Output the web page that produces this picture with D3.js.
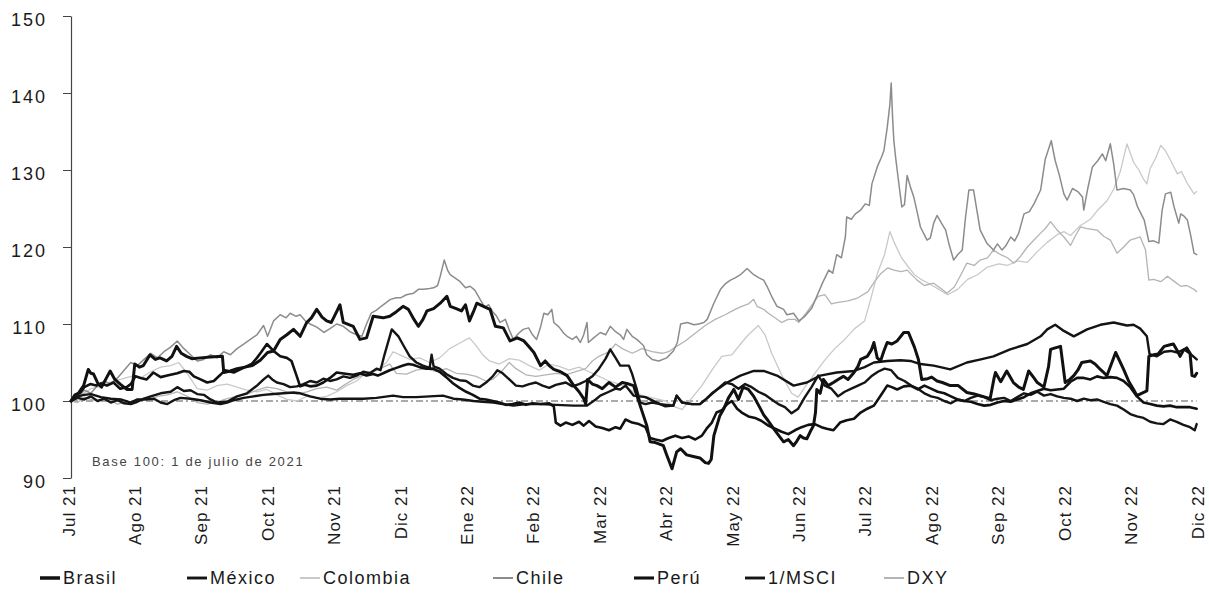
<!DOCTYPE html>
<html><head><meta charset="utf-8">
<script src="https://cdn.jsdelivr.net/npm/d3@7"></script>
<style>body{margin:0;background:#fff}svg{display:block}</style>
</head><body><svg id="c" width="1209" height="604"></svg>
<script>
// x values are months since 1 Jul 2021 (0 = Jul 21, 17 = Dic 22)
const monthLabels = ["Jul 21","Ago 21","Sep 21","Oct 21","Nov 21","Dic 21","Ene 22","Feb 22","Mar 22","Abr 22","May 22","Jun 22","Jul 22","Ago 22","Sep 22","Oct 22","Nov 22","Dic 22"];
const yTickValues = [90,100,110,120,130,140,150];
const seriesNames = ["Brasil","México","Colombia","Chile","Perú","1/MSCI","DXY"];

const brasil = [[0,100],[0.06,100.8],[0.11,101.0],[0.19,102.0],[0.26,104.1],[0.3,103.6],[0.34,103.5],[0.41,102.2],[0.46,101.8],[0.54,103.1],[0.59,103.9],[0.66,102.8],[0.74,102.2],[0.84,101.5],[0.92,101.5],[0.96,104.8],[1.03,104.4],[1.09,104.6],[1.19,106.0],[1.27,105.4],[1.34,105.6],[1.44,105.2],[1.52,105.8],[1.59,107.1],[1.66,106.2],[1.74,105.8],[1.82,105.5],[1.95,105.6],[2.1,105.7],[2.28,105.8],[2.3,103.7],[2.4,103.9],[2.5,104.2],[2.62,104.4],[2.73,104.6],[2.85,105.3],[2.96,106.3],[3.05,106.5],[3.15,108.0],[3.25,108.6],[3.35,109.3],[3.45,108.4],[3.55,110.2],[3.62,110.8],[3.7,111.9],[3.78,110.9],[3.85,110.4],[3.92,110.2],[4.0,111.6],[4.05,112.5],[4.1,110.2],[4.25,109.7],[4.35,108.0],[4.45,108.2],[4.55,111.0],[4.7,110.8],[4.8,111.0],[4.9,111.6],[5.0,112.3],[5.08,111.9],[5.15,110.8],[5.23,109.7],[5.3,110.6],[5.36,111.7],[5.46,112.0],[5.56,112.7],[5.66,113.6],[5.71,112.3],[5.8,112.0],[5.88,111.7],[5.94,112.5],[6.0,110.4],[6.06,111.6],[6.11,112.7],[6.21,112.3],[6.31,111.9],[6.39,109.7],[6.51,109.5],[6.61,107.8],[6.72,108.2],[6.82,107.8],[6.9,107.0],[6.97,106.3],[7.07,104.6],[7.14,105.2],[7.2,104.6],[7.27,104.1],[7.37,103.8],[7.47,103.3],[7.57,102.0],[7.65,101.2],[7.72,100.3],[7.75,99.6],[7.78,102.8],[7.85,102.2],[7.92,102.0],[8.0,101.6],[8.1,102.4],[8.2,101.8],[8.3,102.4],[8.4,102.2],[8.47,102.0],[8.57,99.4],[8.67,96.8],[8.72,94.7],[8.8,94.6],[8.92,94.2],[8.97,93.0],[9.05,91.2],[9.12,93.4],[9.18,93.8],[9.27,93.0],[9.37,92.8],[9.47,92.6],[9.55,92.0],[9.6,91.9],[9.64,92.4],[9.68,95.5],[9.77,98.1],[9.83,99.0],[9.9,100.4],[9.98,101.5],[10.05,100.2],[10.12,101.8],[10.2,101.5],[10.28,100.6],[10.35,99.5],[10.43,98.2],[10.5,97.4],[10.58,96.4],[10.65,95.6],[10.73,94.7],[10.8,95.0],[10.88,94.2],[10.93,94.8],[10.98,95.5],[11.03,95.2],[11.08,95.1],[11.13,96.0],[11.18,96.8],[11.21,98.5],[11.23,101.5],[11.28,101.0],[11.33,102.8],[11.4,102.0],[11.48,102.4],[11.55,102.8],[11.63,103.2],[11.7,102.8],[11.79,103.7],[11.85,104.5],[11.89,105.4],[11.99,105.8],[12.05,106.6],[12.09,107.6],[12.14,105.6],[12.19,105.2],[12.24,106.5],[12.29,107.6],[12.36,107.4],[12.44,107.8],[12.54,108.9],[12.61,108.9],[12.7,107.0],[12.76,105.4],[12.81,102.8],[12.9,102.9],[12.96,103.1],[13.04,102.6],[13.12,102.4],[13.24,102.0],[13.36,102.0],[13.49,101.1],[13.6,100.9],[13.69,100.7],[13.84,100.3],[13.9,103.0],[13.92,103.7],[14.0,102.5],[14.09,103.9],[14.19,102.4],[14.27,101.8],[14.34,101.5],[14.42,103.9],[14.5,103.0],[14.55,102.4],[14.65,101.8],[14.72,104.5],[14.75,106.7],[14.82,106.9],[14.9,107.1],[14.97,102.4],[15.04,102.8],[15.1,103.3],[15.16,104.0],[15.22,105.0],[15.35,105.2],[15.42,104.8],[15.5,104.1],[15.6,103.3],[15.73,106.3],[15.85,104.1],[15.93,102.5],[16.0,101.5],[16.05,100.7],[16.12,101.0],[16.2,101.3],[16.23,105.8],[16.3,106.0],[16.37,106.1],[16.46,107.1],[16.55,107.3],[16.6,107.4],[16.66,106.5],[16.7,105.8],[16.75,106.6],[16.8,106.9],[16.85,106.2],[16.88,103.3],[16.92,103.2],[16.95,103.6]];

const mexico = [[0,100],[0.1,100.4],[0.2,100.2],[0.3,100.6],[0.4,100.0],[0.5,100.3],[0.6,99.8],[0.7,100.1],[0.8,99.7],[0.9,99.6],[1.0,99.9],[1.1,100.3],[1.2,100.6],[1.35,101.0],[1.5,101.2],[1.6,101.8],[1.7,101.3],[1.8,101.4],[1.9,100.9],[2.0,100.8],[2.1,100.2],[2.2,99.8],[2.35,99.9],[2.5,100.6],[2.65,101.0],[2.8,102.0],[2.9,102.8],[2.97,103.3],[3.03,102.8],[3.1,102.4],[3.2,102.2],[3.3,101.8],[3.4,101.9],[3.5,102.2],[3.6,102.6],[3.7,102.4],[3.8,102.9],[3.9,102.6],[4.0,102.8],[4.1,103.2],[4.2,103.0],[4.3,103.3],[4.4,103.8],[4.5,103.6],[4.6,104.2],[4.66,104.0],[4.72,106.0],[4.83,109.3],[4.93,108.4],[5.0,107.3],[5.1,105.8],[5.2,105.0],[5.3,104.6],[5.4,104.3],[5.43,106.0],[5.46,104.5],[5.55,104.2],[5.65,103.5],[5.75,103.0],[5.85,102.7],[5.95,102.6],[6.05,102.0],[6.15,101.8],[6.25,102.4],[6.35,103.2],[6.42,104.0],[6.5,103.6],[6.6,102.8],[6.7,102.0],[6.8,101.9],[6.9,102.2],[7.0,102.4],[7.1,102.0],[7.2,101.7],[7.3,102.1],[7.45,102.4],[7.55,101.9],[7.65,102.2],[7.75,102.6],[7.85,103.2],[7.95,104.2],[8.05,105.5],[8.12,106.7],[8.2,105.6],[8.27,104.6],[8.4,104.6],[8.45,103.5],[8.52,101.5],[8.57,99.8],[8.65,99.6],[8.75,99.8],[8.87,99.6],[8.95,99.3],[9.07,99.4],[9.12,100.7],[9.2,99.8],[9.35,99.6],[9.47,99.6],[9.57,100.3],[9.65,101.0],[9.73,101.5],[9.85,102.4],[9.95,102.2],[10.05,101.6],[10.15,102.2],[10.25,101.8],[10.35,101.2],[10.45,100.8],[10.55,100.2],[10.65,99.6],[10.75,99.2],[10.85,98.4],[10.95,99.0],[11.05,100.5],[11.15,101.8],[11.25,103.3],[11.35,102.0],[11.45,101.6],[11.55,100.6],[11.65,101.2],[11.75,101.6],[11.85,102.0],[11.95,102.4],[12.05,103.2],[12.15,103.8],[12.25,104.2],[12.35,104.0],[12.45,103.0],[12.55,102.6],[12.65,102.0],[12.75,101.6],[12.85,101.0],[12.95,100.6],[13.05,100.4],[13.15,100.0],[13.25,99.7],[13.35,100.2],[13.45,100.0],[13.55,100.4],[13.65,100.7],[13.75,100.5],[13.85,100.1],[13.95,100.3],[14.05,100.4],[14.15,100.0],[14.25,100.5],[14.35,101.0],[14.45,100.8],[14.55,101.2],[14.65,100.7],[14.75,100.9],[14.85,100.6],[14.95,100.4],[15.05,100.3],[15.15,100.0],[15.25,100.3],[15.35,100.1],[15.45,100.2],[15.55,99.9],[15.65,99.6],[15.75,99.4],[15.85,98.9],[15.95,98.3],[16.05,98.0],[16.15,97.8],[16.25,97.3],[16.35,97.1],[16.45,97.0],[16.55,97.6],[16.65,97.3],[16.75,96.9],[16.85,96.6],[16.92,96.2],[16.95,97.0]];

const colombia = [[0,100],[0.15,100.8],[0.3,101.6],[0.45,101.9],[0.6,102.5],[0.75,102.8],[0.9,103.2],[1.05,103.0],[1.2,103.8],[1.35,104.4],[1.5,104.6],[1.62,105.0],[1.75,103.6],[1.9,101.6],[2.05,101.4],[2.2,102.0],[2.35,102.2],[2.5,101.8],[2.65,101.4],[2.8,101.2],[2.95,101.5],[3.1,100.8],[3.25,100.2],[3.4,100.0],[3.55,100.6],[3.7,100.4],[3.85,100.6],[4.0,101.2],[4.15,102.0],[4.3,102.6],[4.45,103.7],[4.6,104.0],[4.75,105.0],[4.85,106.4],[4.95,106.0],[5.1,105.4],[5.25,105.6],[5.4,105.0],[5.55,105.6],[5.7,106.8],[5.85,107.5],[6.0,108.2],[6.1,107.2],[6.2,106.0],[6.3,105.2],[6.45,104.8],[6.6,105.5],[6.75,105.3],[6.9,104.6],[7.05,104.0],[7.2,104.8],[7.35,104.5],[7.5,104.0],[7.65,104.4],[7.8,103.8],[7.95,103.2],[8.1,102.6],[8.25,102.2],[8.4,101.6],[8.5,101.0],[8.65,100.6],[8.8,100.3],[8.95,100.0],[9.1,99.2],[9.2,98.9],[9.35,100.4],[9.5,102.0],[9.65,104.0],[9.8,105.8],[9.95,106.0],[10.1,107.6],[10.2,108.6],[10.35,109.8],[10.45,108.6],[10.55,106.2],[10.7,103.4],[10.85,101.0],[10.95,100.5],[11.05,101.8],[11.2,103.6],[11.35,105.3],[11.5,106.8],[11.65,108.0],[11.8,109.4],[11.95,110.4],[12.05,113.5],[12.15,116.8],[12.25,119.0],[12.33,122.0],[12.4,120.5],[12.5,118.7],[12.6,117.5],[12.7,116.4],[12.8,115.8],[12.93,115.2],[13.05,114.6],[13.2,113.8],[13.35,114.5],[13.5,115.8],[13.65,116.4],[13.8,117.4],[13.97,117.8],[14.1,117.6],[14.25,118.2],[14.4,118.0],[14.55,119.4],[14.7,120.6],[14.85,121.6],[14.95,122.0],[15.05,121.5],[15.2,122.8],[15.35,123.6],[15.45,124.7],[15.6,126.0],[15.7,127.5],[15.8,129.8],[15.9,133.4],[15.95,132.2],[16.0,131.0],[16.08,130.0],[16.15,128.8],[16.2,128.2],[16.25,130.2],[16.33,131.5],[16.41,133.2],[16.48,132.5],[16.56,131.2],[16.66,129.5],[16.72,129.8],[16.8,128.4],[16.91,126.9],[16.95,127.2]];

const chile = [[0,100],[0.1,100.5],[0.2,101.4],[0.3,101.0],[0.4,102.0],[0.5,102.6],[0.6,102.2],[0.7,103.0],[0.8,104.0],[0.9,105.0],[1.0,104.6],[1.1,105.4],[1.2,106.2],[1.3,105.6],[1.4,106.4],[1.5,107.0],[1.6,107.8],[1.7,106.8],[1.8,106.0],[1.9,105.2],[2.0,105.4],[2.1,106.0],[2.2,105.6],[2.3,106.4],[2.4,106.0],[2.5,106.8],[2.6,107.4],[2.7,108.0],[2.8,108.6],[2.9,109.8],[2.96,108.4],[3.05,110.4],[3.15,111.2],[3.24,110.8],[3.3,111.4],[3.39,111.0],[3.45,111.2],[3.53,110.4],[3.6,110.0],[3.7,109.6],[3.81,108.9],[3.9,109.4],[4.0,110.0],[4.1,109.7],[4.2,109.0],[4.3,108.6],[4.38,108.4],[4.45,110.0],[4.52,111.4],[4.6,111.8],[4.67,112.3],[4.75,112.8],[4.81,113.2],[4.9,113.4],[4.96,113.4],[5.05,113.8],[5.16,114.0],[5.23,114.5],[5.31,114.5],[5.4,114.6],[5.46,114.7],[5.52,115.0],[5.56,116.2],[5.62,118.3],[5.67,117.0],[5.71,116.4],[5.78,116.0],[5.86,115.5],[5.94,114.7],[6.01,114.9],[6.08,114.4],[6.16,113.2],[6.23,112.2],[6.29,112.5],[6.35,111.6],[6.41,111.0],[6.46,110.2],[6.54,110.6],[6.6,109.2],[6.66,108.0],[6.74,108.8],[6.81,109.3],[6.89,109.5],[6.95,108.6],[7.01,108.0],[7.07,109.6],[7.12,111.4],[7.18,111.2],[7.24,111.9],[7.27,110.2],[7.35,109.6],[7.42,108.8],[7.47,108.4],[7.55,108.0],[7.61,108.4],[7.67,107.6],[7.72,108.6],[7.77,110.2],[7.79,107.6],[7.87,108.2],[7.97,108.9],[8.05,108.6],[8.12,109.7],[8.2,109.0],[8.27,108.6],[8.32,108.0],[8.37,109.3],[8.45,108.4],[8.52,108.0],[8.57,107.6],[8.62,107.2],[8.67,106.0],[8.75,105.4],[8.85,105.2],[8.97,105.6],[9.07,106.5],[9.13,107.6],[9.18,110.0],[9.28,110.2],[9.38,109.9],[9.45,110.0],[9.53,110.2],[9.58,110.6],[9.68,112.7],[9.78,114.5],[9.85,115.2],[9.93,115.7],[10.0,116.0],[10.08,116.4],[10.18,117.2],[10.28,116.4],[10.36,116.0],[10.43,115.7],[10.48,114.9],[10.55,113.6],[10.63,112.3],[10.73,111.9],[10.78,111.2],[10.88,111.4],[10.96,110.4],[11.05,111.0],[11.15,112.0],[11.23,113.6],[11.32,115.4],[11.41,117.0],[11.47,116.6],[11.53,119.0],[11.6,118.6],[11.66,121.3],[11.68,123.9],[11.75,123.6],[11.81,124.3],[11.89,124.8],[11.96,125.6],[12.02,125.4],[12.06,128.2],[12.14,130.4],[12.2,131.6],[12.24,132.5],[12.29,135.5],[12.33,138.5],[12.35,141.3],[12.37,137.0],[12.39,133.8],[12.42,131.4],[12.46,128.6],[12.51,125.2],[12.55,125.5],[12.59,129.3],[12.64,127.8],[12.69,126.5],[12.74,124.6],[12.79,122.6],[12.89,120.9],[12.94,121.2],[12.99,123.1],[13.04,124.1],[13.1,123.2],[13.17,122.2],[13.22,120.4],[13.29,118.3],[13.35,119.0],[13.42,119.6],[13.47,123.9],[13.52,127.4],[13.59,127.4],[13.64,124.8],[13.69,122.2],[13.79,120.5],[13.89,119.6],[13.95,120.4],[14.02,119.6],[14.08,120.2],[14.15,121.3],[14.21,120.8],[14.27,121.8],[14.35,124.3],[14.43,124.6],[14.5,125.6],[14.6,127.4],[14.67,131.4],[14.76,133.8],[14.82,131.2],[14.88,129.4],[14.95,126.9],[15.0,126.1],[15.08,127.6],[15.16,127.2],[15.23,126.5],[15.25,124.8],[15.31,127.6],[15.38,130.4],[15.46,131.2],[15.53,132.1],[15.58,131.2],[15.65,133.4],[15.7,130.8],[15.75,127.4],[15.85,127.6],[15.95,127.4],[16.0,126.8],[16.06,125.2],[16.16,123.5],[16.23,120.7],[16.3,120.8],[16.38,120.5],[16.43,124.8],[16.48,126.9],[16.56,127.1],[16.61,125.2],[16.68,123.1],[16.71,124.3],[16.76,124.0],[16.81,123.5],[16.86,121.5],[16.91,119.2],[16.95,119.0]];

const peru = [[0,100],[0.07,100.8],[0.14,101.1],[0.2,101.8],[0.29,102.2],[0.38,102.0],[0.45,102.3],[0.54,102.0],[0.64,102.4],[0.74,101.6],[0.84,101.8],[0.9,102.2],[0.97,103.2],[1.05,103.0],[1.14,102.8],[1.24,103.7],[1.35,103.1],[1.45,103.3],[1.6,103.6],[1.7,103.9],[1.78,103.8],[1.85,103.2],[1.95,102.8],[2.05,102.4],[2.15,102.6],[2.25,103.4],[2.32,104.0],[2.45,103.7],[2.55,104.1],[2.62,104.4],[2.72,104.8],[2.8,105.6],[2.86,106.3],[2.95,107.4],[3.05,106.5],[3.15,105.8],[3.25,105.6],[3.32,105.2],[3.4,103.2],[3.45,101.9],[3.52,102.1],[3.6,101.9],[3.7,102.0],[3.8,102.4],[3.9,103.0],[4.0,103.7],[4.08,103.6],[4.16,103.5],[4.25,103.4],[4.35,103.6],[4.45,103.3],[4.55,103.5],[4.62,103.3],[4.7,103.6],[4.8,104.0],[4.9,104.3],[5.0,104.6],[5.08,104.8],[5.15,104.7],[5.25,104.4],[5.35,104.2],[5.45,104.2],[5.55,103.8],[5.65,103.1],[5.75,102.3],[5.85,101.7],[5.95,101.2],[6.05,100.8],[6.15,100.3],[6.25,100.2],[6.35,100.0],[6.45,99.8],[6.55,99.5],[6.65,99.6],[6.75,99.8],[6.85,99.5],[6.95,99.7],[7.07,99.6],[7.2,99.7],[7.27,99.3],[7.3,97.2],[7.37,96.8],[7.45,97.2],[7.55,96.9],[7.65,97.3],[7.72,96.8],[7.8,97.4],[7.9,96.7],[8.0,96.5],[8.1,96.2],[8.2,96.6],[8.27,96.4],[8.35,97.6],[8.45,97.2],[8.55,97.0],[8.65,96.6],[8.72,95.2],[8.8,95.0],[8.9,94.8],[9.0,95.2],[9.1,95.5],[9.2,95.2],[9.3,95.4],[9.4,95.0],[9.5,95.5],[9.57,96.4],[9.65,97.2],[9.72,98.5],[9.8,98.8],[9.88,99.6],[9.95,100.0],[10.03,99.0],[10.1,98.5],[10.2,98.0],[10.3,97.8],[10.4,97.4],[10.5,96.8],[10.6,96.4],[10.7,96.0],[10.8,95.7],[10.9,96.2],[11.0,96.6],[11.1,96.9],[11.2,97.0],[11.3,96.6],[11.38,96.4],[11.48,96.2],[11.58,97.2],[11.68,97.5],[11.79,97.7],[11.89,98.5],[11.99,99.0],[12.09,99.4],[12.2,100.8],[12.29,102.0],[12.36,101.8],[12.44,101.5],[12.54,101.9],[12.64,102.0],[12.75,101.5],[12.85,102.0],[12.95,101.6],[13.05,101.2],[13.15,101.0],[13.25,100.6],[13.35,100.2],[13.45,100.0],[13.55,99.9],[13.65,99.6],[13.75,99.4],[13.85,99.5],[13.95,99.8],[14.05,100.0],[14.15,99.9],[14.25,100.2],[14.35,100.5],[14.45,101.0],[14.55,101.3],[14.65,101.6],[14.75,101.4],[14.85,101.5],[14.95,101.6],[15.05,102.5],[15.15,103.0],[15.25,103.0],[15.35,102.8],[15.45,103.2],[15.55,103.0],[15.65,103.1],[15.75,103.0],[15.85,102.6],[15.95,101.8],[16.05,100.6],[16.15,99.8],[16.25,99.6],[16.35,99.4],[16.45,99.3],[16.55,99.4],[16.65,99.2],[16.75,99.2],[16.85,99.2],[16.95,99.0]];

const msciInv = [[0,100],[0.1,100.6],[0.2,100.8],[0.3,100.9],[0.45,100.5],[0.6,100.3],[0.75,100.2],[0.9,99.8],[1.0,100.2],[1.1,100.2],[1.25,100.3],[1.35,99.8],[1.45,99.6],[1.55,100.1],[1.65,100.4],[1.8,100.3],[1.95,100.1],[2.1,99.8],[2.25,99.6],[2.35,99.8],[2.45,100.1],[2.6,100.4],[2.75,100.6],[2.9,100.8],[3.05,100.9],[3.2,101.0],[3.35,101.1],[3.45,101.0],[3.6,100.6],[3.75,100.3],[3.9,100.2],[4.05,100.3],[4.2,100.3],[4.4,100.3],[4.6,100.4],[4.85,100.7],[5.0,100.5],[5.2,100.5],[5.4,100.6],[5.6,100.7],[5.76,100.3],[5.9,100.2],[6.06,100.0],[6.2,99.9],[6.36,99.8],[6.5,99.6],[6.66,99.4],[6.85,99.6],[7.07,99.6],[7.3,99.5],[7.57,99.4],[7.77,99.4],[7.9,100.2],[7.97,100.7],[8.1,101.2],[8.2,101.6],[8.27,101.5],[8.35,102.0],[8.47,100.7],[8.65,100.5],[8.87,99.6],[9.07,99.4],[9.12,100.7],[9.2,99.8],[9.35,99.6],[9.47,99.6],[9.57,100.3],[9.73,101.5],[9.88,102.4],[10.08,103.3],[10.28,103.9],[10.43,103.9],[10.63,103.3],[10.88,102.0],[11.08,102.4],[11.28,103.3],[11.53,103.7],[11.79,103.9],[11.95,104.4],[12.09,105.0],[12.29,105.2],[12.49,105.3],[12.64,105.2],[12.79,104.8],[12.99,104.6],[13.24,104.1],[13.49,105.0],[13.7,105.4],[13.89,105.8],[14.14,106.7],[14.4,107.4],[14.6,108.4],[14.7,109.3],[14.82,109.9],[14.95,109.1],[15.1,108.4],[15.3,109.3],[15.5,109.9],[15.7,110.2],[15.9,109.8],[16.0,109.9],[16.1,109.4],[16.2,108.4],[16.24,106.1],[16.35,105.8],[16.46,106.4],[16.56,106.5],[16.66,106.3],[16.76,106.7],[16.86,106.1],[16.95,105.4]];

const dxy = [[0,100],[0.1,99.8],[0.2,100.5],[0.3,100.2],[0.4,100.0],[0.5,100.4],[0.6,100.0],[0.7,99.6],[0.8,99.8],[0.9,99.6],[1.0,99.9],[1.1,100.4],[1.2,100.2],[1.3,100.6],[1.45,100.8],[1.6,101.2],[1.75,100.6],[1.9,99.8],[2.05,99.6],[2.2,99.9],[2.35,100.3],[2.5,100.6],[2.65,100.9],[2.8,101.4],[2.95,101.8],[3.1,101.6],[3.25,101.2],[3.4,100.9],[3.55,101.2],[3.7,101.6],[3.85,101.8],[4.0,101.4],[4.1,102.0],[4.25,102.8],[4.4,103.4],[4.55,103.8],[4.7,104.4],[4.8,104.8],[4.9,103.6],[5.05,103.5],[5.2,104.0],[5.35,104.2],[5.5,103.8],[5.65,104.2],[5.8,103.6],[5.95,103.5],[6.1,103.2],[6.25,102.6],[6.35,102.8],[6.5,104.0],[6.6,105.0],[6.7,104.2],[6.85,103.4],[7.0,103.2],[7.15,103.4],[7.3,103.6],[7.45,103.4],[7.6,103.8],[7.75,104.2],[7.85,105.2],[7.95,105.8],[8.1,106.4],[8.2,107.4],[8.3,106.8],[8.45,106.2],[8.6,106.8],[8.75,106.4],[8.9,106.2],[9.0,106.4],[9.1,107.0],[9.25,107.8],[9.4,108.8],[9.55,109.8],[9.7,110.6],[9.85,111.2],[10.0,111.9],[10.1,112.3],[10.2,112.6],[10.28,113.2],[10.33,112.3],[10.43,111.9],[10.5,111.4],[10.6,110.8],[10.7,110.2],[10.8,110.6],[10.9,110.6],[10.96,110.2],[11.05,111.2],[11.15,112.4],[11.25,113.6],[11.35,113.8],[11.45,112.6],[11.55,112.8],[11.7,113.0],[11.85,113.4],[12.0,114.2],[12.1,115.5],[12.2,116.6],[12.3,117.3],[12.39,117.0],[12.5,116.8],[12.59,117.0],[12.74,115.7],[12.85,115.0],[12.99,115.3],[13.1,114.6],[13.19,114.0],[13.3,114.8],[13.4,116.4],[13.49,117.9],[13.6,117.6],[13.69,118.3],[13.8,118.6],[13.89,119.6],[14.0,119.0],[14.1,118.6],[14.2,117.9],[14.3,118.8],[14.4,120.0],[14.5,120.9],[14.6,121.8],[14.68,122.5],[14.75,123.3],[14.85,122.2],[14.95,121.3],[15.05,120.2],[15.12,121.4],[15.2,122.6],[15.3,122.4],[15.45,122.2],[15.55,121.4],[15.65,120.9],[15.75,119.2],[15.85,120.0],[15.95,120.9],[16.1,121.3],[16.18,119.6],[16.23,115.7],[16.3,115.8],[16.41,115.5],[16.51,116.2],[16.6,115.6],[16.71,114.9],[16.8,115.0],[16.91,114.5],[16.95,114.2]];

const seriesData = {"Brasil":brasil,"México":mexico,"Colombia":colombia,"Chile":chile,"Perú":peru,"1/MSCI":msciInv,"DXY":dxy};
const styles = {
  "Brasil":{c:"#111",w:3},
  "México":{c:"#151515",w:2.4},
  "Colombia":{c:"#c9c9c9",w:1.3},
  "Chile":{c:"#8c8c8c",w:1.5},
  "Perú":{c:"#111",w:2.6},
  "1/MSCI":{c:"#141414",w:2.4},
  "DXY":{c:"#b4b4b4",w:1.3}
};
const drawOrder = ["Colombia","DXY","Chile","1/MSCI","México","Perú","Brasil"];
const legendX = {"Brasil":40,"México":187,"Colombia":300,"Chile":493,"Perú":634,"1/MSCI":745,"DXY":884};

const svg = d3.select("#c");
const x = d3.scaleLinear().domain([0,17]).range([71,1200]);
const y = d3.scaleLinear().domain([90,150]).range([478,16]);

// baseline 100
svg.append("line").attr("x1",x(0)).attr("x2",x(16.95)).attr("y1",y(100)).attr("y2",y(100))
  .attr("stroke","#555").attr("stroke-width",1).attr("stroke-dasharray","7,3,2,3");

// y axis
const yAxis = svg.append("g").attr("transform","translate(71,0)")
  .call(d3.axisLeft(y).tickValues(yTickValues).tickSize(8).tickSizeOuter(0).tickPadding(16));
yAxis.select(".domain").attr("stroke","#444").attr("stroke-width",1.2);
yAxis.selectAll(".tick line").attr("stroke","#444");
yAxis.selectAll(".tick text").attr("font-family","Liberation Sans, Arial, sans-serif")
  .attr("font-size",18).attr("fill","#1a1a1a").attr("letter-spacing","2px").attr("dy","0.55em");

// x axis
const xAxis = svg.append("g").attr("transform","translate(0,485)")
  .call(d3.axisBottom(x).tickValues(d3.range(18)).tickFormat(i=>monthLabels[i]).tickSize(0));
xAxis.select(".domain").remove();
xAxis.selectAll(".tick text").attr("y",0).attr("dy",0)
  .attr("transform","translate(3,0) rotate(-90)").style("text-anchor","end")
  .attr("font-family","Liberation Sans, Arial, sans-serif").attr("font-size",17)
  .attr("fill","#1a1a1a").attr("letter-spacing","1px");

// note
svg.append("text").attr("x",92).attr("y",466).text("Base 100: 1 de julio de 2021")
  .attr("font-family","Liberation Sans, Arial, sans-serif").attr("font-size",13)
  .attr("letter-spacing","1.7px").attr("fill","#444");

// lines
const line = d3.line().x(d=>x(d[0])).y(d=>y(d[1]));
drawOrder.forEach(n=>{
  svg.append("path").datum(seriesData[n]).attr("d",line).attr("fill","none")
    .attr("stroke",styles[n].c).attr("stroke-width",styles[n].w)
    .attr("stroke-linejoin","round").attr("stroke-linecap","round");
});

// legend
const lg = svg.append("g");
seriesNames.forEach(n=>{
  const lx = legendX[n];
  lg.append("line").attr("x1",lx).attr("x2",lx+20).attr("y1",578).attr("y2",578)
    .attr("stroke",styles[n].c).attr("stroke-width",Math.max(2,styles[n].w+0.5));
  lg.append("text").attr("x",lx+23).attr("y",584).text(n)
    .attr("font-family","Liberation Sans, Arial, sans-serif").attr("font-size",18)
    .attr("letter-spacing","1.5px").attr("fill","#1a1a1a");
});
</script></body></html>
